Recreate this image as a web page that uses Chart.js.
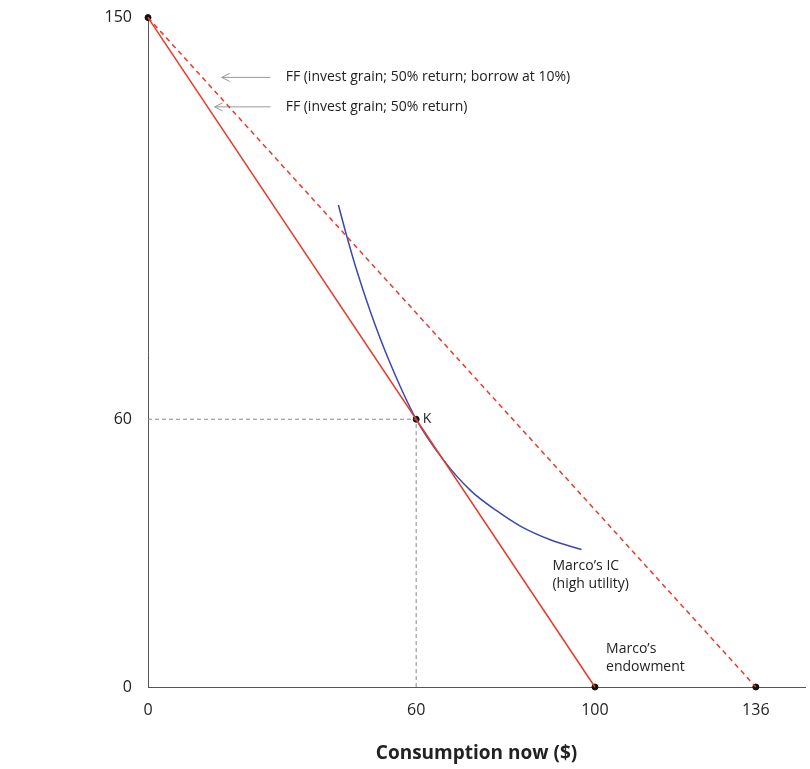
<!DOCTYPE html>
<html><head><meta charset="utf-8">
<script src="https://cdn.jsdelivr.net/npm/chart.js@4"></script>
<style>body{margin:0;background:#fff}#wrap{width:810px;height:769px}</style>
</head><body><div id="wrap"><canvas id="c"></canvas></div>
<script>
const xTicks = [0, 60, 100, 136];
const yTicks = [0, 60, 150];
const ffBorrow = [{x: 0, y: 150}, {x: 136, y: 0}];
const ffInvest = [{x: 0, y: 150}, {x: 100, y: 0}];
const icCurve = [{x: 42.6, y: 108}, {x: 44.2, y: 102}, {x: 46.5, y: 94}, {x: 49.8, y: 84}, {x: 54, y: 73},
  {x: 60, y: 60}, {x: 66, y: 51}, {x: 72.2, y: 44}, {x: 78, y: 39.5}, {x: 83.4, y: 36}, {x: 90, y: 33}, {x: 97, y: 30.8}];
const guide = [{x: 0, y: 60}, {x: 60, y: 60}, {x: 60, y: 0}];
const dots = [{x: 0, y: 150}, {x: 60, y: 60}, {x: 100, y: 0}, {x: 136, y: 0}];
const arrowTop = [{x: 27.4, y: 136.6}, {x: 16.5, y: 136.6}];
const arrowBottom = [{x: 27.4, y: 130}, {x: 14.9, y: 130}];
const labels = [
  {x: 30.8, y: 136.6, lines: ['FF (invest grain; 50% return; borrow at 10%)']},
  {x: 30.8, y: 130, lines: ['FF (invest grain; 50% return)']},
  {x: 61.5, y: 60, lines: ['K']},
  {x: 90.5, y: 27, lines: ['Marco’s IC', '(high utility)']},
  {x: 102.5, y: 8.5, lines: ['Marco’s', 'endowment']}
];

const line = (data, color, extra) => Object.assign({type: 'line', data, borderColor: color, borderWidth: 1.5,
  pointRadius: 0, fill: false, tension: 0, clip: false}, extra);

const overlay = {
  id: 'overlay',
  afterDatasetsDraw(chart) {
    const {ctx, scales: {x, y}} = chart;
    ctx.save();
    ctx.fillStyle = '#999'; ctx.strokeStyle = '#999';
    [arrowTop, arrowBottom].forEach(a => {
      const px = x.getPixelForValue(a[1].x), py = y.getPixelForValue(a[1].y);
      ctx.beginPath(); ctx.moveTo(px + 8, py - 4); ctx.lineTo(px, py); ctx.lineTo(px + 8, py + 4); ctx.stroke();
    });
    ctx.fillStyle = '#222'; ctx.font = '14px "Open Sans", sans-serif'; ctx.textBaseline = 'middle';
    labels.forEach(l => l.lines.forEach((t, i) =>
      ctx.fillText(t, x.getPixelForValue(l.x), y.getPixelForValue(l.y) + i * 18)));
    ctx.restore();
  }
};

new Chart(document.getElementById('c'), {
  data: {datasets: [
    line(ffBorrow, '#e8392a', {borderDash: [5, 4]}),
    line(ffInvest, '#e8392a'),
    line(icCurve, '#3a48b0', {tension: 0.4, cubicInterpolationMode: 'monotone'}),
    line(guide, '#888', {borderWidth: 1, borderDash: [4, 3]}),
    line(arrowTop, '#999', {borderWidth: 1}),
    line(arrowBottom, '#999', {borderWidth: 1}),
    {type: 'scatter', data: dots, pointRadius: 3, backgroundColor: '#111', borderColor: '#111', clip: false}
  ]},
  options: {
    responsive: true, maintainAspectRatio: false, animation: false,
    layout: {padding: {top: 12, right: 0}},
    plugins: {legend: {display: false}, tooltip: {enabled: false}},
    scales: {
      x: {type: 'linear', min: 0, max: 147, grid: {display: false, drawTicks: true},
        border: {color: '#555'},
        afterBuildTicks: a => { a.ticks = xTicks.map(v => ({value: v})); },
        afterFit: a => { a.height = 82; },
        ticks: {color: '#222', font: {size: 16, family: '"Open Sans", sans-serif'}, padding: 6},
        title: {display: true, text: 'Consumption now ($)', color: '#222',
          font: {size: 19, weight: 'bold', family: '"Open Sans", sans-serif'}, padding: {top: 11}}},
      y: {type: 'linear', min: 0, max: 150, grid: {display: false},
        border: {color: '#555'},
        afterBuildTicks: a => { a.ticks = yTicks.map(v => ({value: v})); },
        afterFit: a => { a.width = 148; },
        ticks: {color: '#222', font: {size: 16, family: '"Open Sans", sans-serif'}, padding: 8}}
    }
  },
  plugins: [overlay]
});
</script></body></html>
